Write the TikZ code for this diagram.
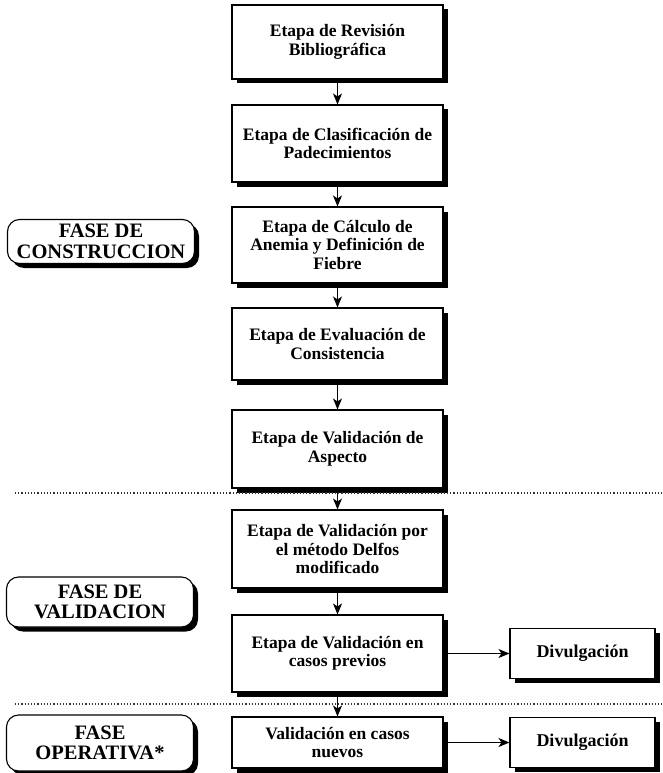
\documentclass[tikz,border=0pt]{standalone}
\usepackage{fontspec}
\setmainfont{Liberation Serif}
\usetikzlibrary{shadows,arrows.meta}
\begin{document}
\begin{tikzpicture}[x=1pt,y=-1pt,
  boxshadow/.style={drop shadow={shadow xshift=4.5pt,shadow yshift=-4.5pt,fill=black,opacity=1}},
  stepbox/.style={draw,line width=1.1pt,fill=white,boxshadow,minimum width=211pt,inner sep=0pt,
    align=center,font=\bfseries\fontsize{17.5}{18.5}\selectfont},
  divbox/.style={draw,line width=1.1pt,fill=white,boxshadow,minimum width=145pt,minimum height=50pt,inner sep=0pt,
    align=center,font=\bfseries\fontsize{18}{19}\selectfont},
  phasebox/.style={draw,line width=1.1pt,fill=white,rounded corners=12pt,boxshadow,minimum width=187pt,inner sep=0pt,
    align=center,font=\bfseries\fontsize{20.5}{20.5}\selectfont},
  arr/.style={line width=1pt,-{Stealth[length=11pt,width=9pt,inset=3pt]}},
  sep/.style={dotted,line width=1.2pt,black!80}
]
\useasboundingbox (0,0) rectangle (662,773);

% main stage boxes
\node[stepbox,minimum height=74pt] (b1) at (337.5,42) {Etapa de Revisión\\Bibliográfica};
\node[stepbox,minimum height=77pt] (b2) at (337.5,143.5) {Etapa de Clasificación de\\Padecimientos};
\node[stepbox,minimum height=76pt] (b3) at (337.5,245) {Etapa de Cálculo de\\Anemia y Definición de\\Fiebre};
\node[stepbox,minimum height=72pt] (b4) at (337.5,344) {Etapa de Evaluación de\\Consistencia};
\node[stepbox,minimum height=78pt] (b5) at (337.5,449) {Etapa de Validación de\\Aspecto};
\node[stepbox,minimum height=78pt] (b6) at (337.5,549) {Etapa de Validación por\\el método Delfos\\modificado};
\node[stepbox,minimum height=77pt] (b7) at (337.5,653.5) {Etapa de Validación en\\casos previos};
\node[stepbox,minimum height=51pt] (b8) at (337.5,742.5) {Validación en casos\\nuevos};

% dissemination boxes
\node[divbox] (d1) at (582.5,653.5) {Divulgación};
\node[divbox] (d2) at (582.5,742.5) {Divulgación};

% phase labels
\node[phasebox,minimum height=44pt] (p1) at (101,241.5) {FASE DE\\CONSTRUCCION};
\node[phasebox,minimum height=50pt] (p2) at (100,602) {FASE DE\\VALIDACION};
\node[phasebox,minimum height=56pt] (p3) at (100,743) {FASE\\OPERATIVA*};

% separators
\coordinate (s1a) at (15,493);
\coordinate (s1b) at (662,493);
\coordinate (s2a) at (15,704);
\coordinate (s2b) at (662,704);
\draw[sep] (s1a) -- (s1b);
\draw[sep] (s2a) -- (s2b);

% connectors
\draw[arr] (b1) -- (b2);
\draw[arr] (b2) -- (b3);
\draw[arr] (b3) -- (b4);
\draw[arr] (b4) -- (b5);
\draw[arr] (b5) -- (b6);
\draw[arr] (b6) -- (b7);
\draw[arr] (b7) -- (b8);
\draw[arr] (b7) -- (d1);
\draw[arr] (b8) -- (d2);
\end{tikzpicture}
\end{document}
